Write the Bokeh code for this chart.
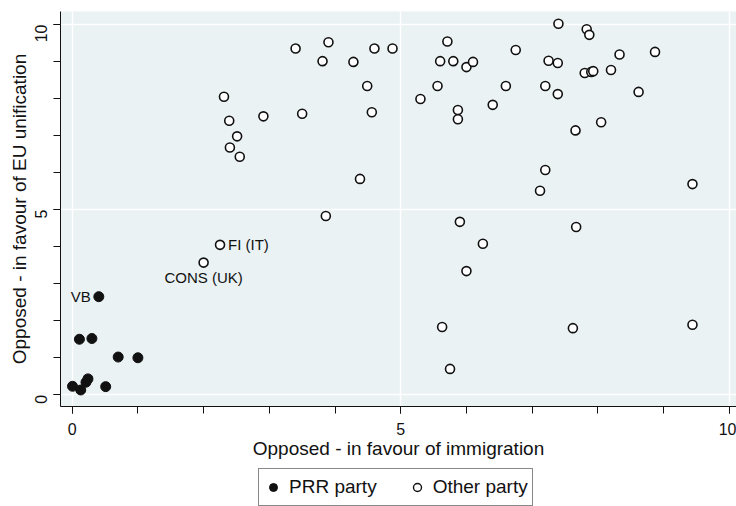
import math
from bokeh.plotting import figure
from bokeh.layouts import column
from bokeh.models import FixedTicker, Legend, LegendItem, ColumnDataSource, Range1d
from bokeh.core.properties import value
from bokeh.embed import file_html
from bokeh.resources import INLINE

# ---------------- data ----------------
prr_x = [0.405, 0.11, 0.30, 0.70, 1.00, 0.005, 0.13, 0.21, 0.24, 0.51]
prr_y = [2.65, 1.50, 1.52, 1.02, 1.00, 0.23, 0.13, 0.34, 0.43, 0.22]
prr_names = ["VB", "", "", "", "", "", "", "", "", ""]

other_x = [2.25, 2.00, 3.86, 2.31, 2.39, 2.51, 2.40, 2.55, 2.91, 3.40,
           3.50, 3.81, 3.90, 4.28, 4.49, 4.56, 4.38, 4.60, 4.875, 5.71,
           5.60, 5.80, 6.00, 6.10, 5.56, 5.30, 5.87, 5.87, 6.40, 6.60,
           6.75, 7.40, 7.25, 7.39, 7.20, 7.39, 7.83, 7.87, 7.80, 7.90,
           7.93, 8.20, 8.33, 8.87, 8.62, 8.05, 7.66, 7.20, 7.12, 9.44,
           5.90, 7.67, 6.25, 6.00, 5.63, 7.62, 9.44, 5.75]
other_y = [4.05, 3.57, 4.83, 8.05, 7.40, 6.98, 6.68, 6.43, 7.52, 9.35,
           7.59, 9.01, 9.52, 8.99, 8.34, 7.63, 5.83, 9.35, 9.35, 9.54,
           9.01, 9.01, 8.85, 8.99, 8.34, 7.99, 7.69, 7.44, 7.83, 8.34,
           9.31, 10.02, 9.02, 8.96, 8.34, 8.12, 9.87, 9.72, 8.69, 8.72,
           8.74, 8.77, 9.19, 9.26, 8.18, 7.36, 7.14, 6.07, 5.51, 5.69,
           4.67, 4.53, 4.08, 3.34, 1.83, 1.80, 1.89, 0.70]
other_names = ["FI (IT)", "CONS (UK)"] + [""] * (len(other_x) - 2)

x_ticks = [0, 5, 10]
y_ticks = [0, 5, 10]
minor = list(range(0, 11))

x_title = "Opposed - in favour of immigration"
y_title = "Opposed - in favour of EU unification"
legend_labels = ["PRR party", "Other party"]

FONT = "Liberation Sans"
INK = "#111111"

# ---------------- main figure ----------------
p = figure(width=736, height=466, output_backend="svg", toolbar_location=None,
           x_range=Range1d(-0.178, 10.11), y_range=Range1d(-0.316, 10.351),
           min_border_left=60, min_border_right=0, min_border_top=11,
           min_border_bottom=60)
p.background_fill_color = "#eaf2f3"
p.border_fill_color = "white"
p.outline_line_color = None

for ax, ticks in ((p.xaxis, x_ticks), (p.yaxis, y_ticks)):
    ax.ticker = FixedTicker(ticks=ticks, minor_ticks=minor)
    ax.axis_line_color = INK
    ax.axis_line_width = 1
    ax.major_tick_line_color = INK
    ax.minor_tick_line_color = INK
    ax.major_tick_in = 0
    ax.major_tick_out = 7
    ax.minor_tick_in = 0
    ax.minor_tick_out = 7
    ax.major_label_text_font = FONT
    ax.major_label_text_font_size = "16px"
    ax.major_label_text_color = INK
    ax.axis_label_text_font = FONT
    ax.axis_label_text_font_size = "19px"
    ax.axis_label_text_font_style = "normal"
    ax.axis_label_text_color = INK

p.xaxis.axis_label = x_title
p.yaxis.axis_label = y_title
p.yaxis.major_label_orientation = math.pi / 2
p.xaxis.major_label_standoff = 9
p.xaxis.axis_label_standoff = 0
p.yaxis.major_label_standoff = 12
p.yaxis.axis_label_standoff = -3

p.xgrid.grid_line_color = "white"
p.ygrid.grid_line_color = "white"
p.xgrid.grid_line_width = 1.5
p.ygrid.grid_line_width = 1.5

# ---------------- marks ----------------
src_prr = ColumnDataSource(dict(x=prr_x, y=prr_y, name=prr_names))
src_oth = ColumnDataSource(dict(x=other_x, y=other_y, name=other_names))

p.scatter("x", "y", source=src_oth, size=9, marker="circle",
          fill_color="white", line_color=INK, line_width=1.6)
p.scatter("x", "y", source=src_prr, size=10, marker="circle",
          fill_color=INK, line_color=INK, line_width=1)

# marker labels
def pick(xs, ys, names, which):
    i = names.index(which)
    return [xs[i]], [ys[i]], [which]

lx, ly, lt = pick(other_x, other_y, other_names, "FI (IT)")
p.text(x=lx, y=ly, text=lt, x_offset=8, text_align="left", text_baseline="middle",
       text_font=value(FONT), text_font_size="15px", text_color=INK)
lx, ly, lt = pick(other_x, other_y, other_names, "CONS (UK)")
p.text(x=lx, y=ly, text=lt, y_offset=15, text_align="center", text_baseline="middle",
       text_font=value(FONT), text_font_size="15px", text_color=INK)
lx, ly, lt = pick(prr_x, prr_y, prr_names, "VB")
p.text(x=lx, y=ly, text=lt, x_offset=-8, text_align="right", text_baseline="middle",
       text_font=value(FONT), text_font_size="15px", text_color=INK)

# ---------------- legend strip ----------------
lf = figure(width=736, height=40, output_backend="svg", toolbar_location=None,
            x_range=Range1d(0, 1), y_range=Range1d(0, 1),
            x_axis_location=None, y_axis_location=None, min_border=0)
lf.outline_line_color = None
lf.background_fill_color = "white"
lf.border_fill_color = "white"
lf.grid.visible = False

l_prr = lf.scatter("x", "y", source=src_prr, marker="circle",
                   fill_color=INK, line_color=INK, line_width=1)
l_oth = lf.scatter("x", "y", source=src_oth, marker="circle",
                   fill_color="white", line_color=INK, line_width=1.4)
l_prr.visible = False
l_oth.visible = False

legend = Legend(items=[LegendItem(label=legend_labels[0], renderers=[l_prr]),
                       LegendItem(label=legend_labels[1], renderers=[l_oth])],
                orientation="horizontal", location=(198, 0))
legend.border_line_color = INK
legend.border_line_width = 1
legend.background_fill_color = "white"
legend.background_fill_alpha = 1
legend.inactive_fill_alpha = 0
legend.label_text_font = FONT
legend.label_text_font_size = "19px"
legend.label_text_color = INK
legend.padding = 4
legend.spacing = 30
legend.glyph_width = 20
legend.glyph_height = 24
legend.label_height = 28
legend.label_standoff = 6
legend.margin = 0
lf.add_layout(legend, "center")

page = column(p, lf, spacing=0)
open("out.html", "w").write(file_html(page, INLINE))
